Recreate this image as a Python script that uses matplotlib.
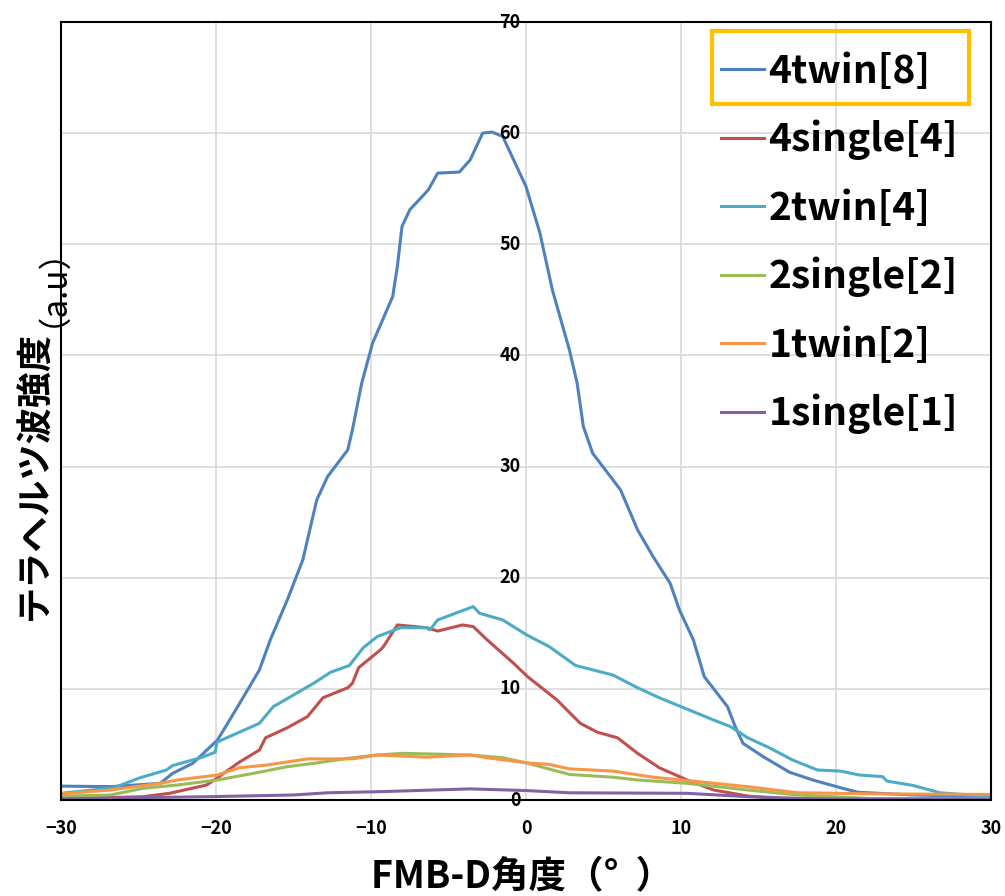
import matplotlib
matplotlib.use('Agg')
import matplotlib.pyplot as plt
from matplotlib.patches import Rectangle

plt.rcParams['font.family'] = ['Noto Sans CJK JP', 'DejaVu Sans']

# angle (deg) / intensity (a.u)
x_4twin = [-30, -26.8, -23.6, -22.8, -21.5, -19.9, -18.6, -17.2, -16.5, -15.4, -14.4, -13.5, -12.8,
           -11.5, -11.2, -10.6, -9.9, -8.6, -8.3, -8.0, -7.5, -6.3, -5.7, -4.3, -3.6, -2.8, -2.2,
           -1.5, 0.0, 0.9, 1.7, 2.8, 3.3, 3.7, 4.3, 6.1, 7.2, 8.2, 9.3, 9.9, 10.8, 11.5, 13.0,
           13.5, 14.0, 15.3, 17.0, 18.5, 20.3, 21.4, 22.8, 25, 30]
y_4twin = [1.25, 1.2, 1.5, 2.4, 3.3, 5.4, 8.4, 11.7, 14.4, 18.0, 21.6, 27.0, 29.1,
           31.5, 33.3, 37.5, 41.1, 45.3, 48.0, 51.6, 53.1, 54.9, 56.4, 56.5, 57.6, 60.0, 60.1,
           59.7, 55.2, 51.0, 45.9, 40.5, 37.5, 33.6, 31.2, 27.9, 24.3, 21.9, 19.5, 17.1, 14.4, 11.1, 8.4,
           6.6, 5.1, 3.9, 2.5, 1.8, 1.1, 0.7, 0.6, 0.45, 0.3]

x_4single = [-30, -24.7, -23, -20.6, -19.9, -18.5, -17.2, -16.8, -15.4, -14.1, -13.1, -11.5, -11.2,
             -10.8, -9.4, -9.2, -8.3, -6.4, -5.7, -4.1, -3.4, -2.5, -0.8, 0.1, 2.0, 3.5, 4.6, 5.9,
             7.2, 8.6, 10.4, 12.1, 14.3, 16.2, 20, 25, 30]
y_4single = [0.1, 0.3, 0.6, 1.35, 2.0, 3.4, 4.5, 5.6, 6.5, 7.5, 9.2, 10.1, 10.5,
             11.9, 13.5, 13.8, 15.75, 15.5, 15.2, 15.75, 15.6, 14.4, 12.3, 11.1, 9.0, 6.9, 6.1, 5.6,
             4.2, 2.9, 1.8, 0.9, 0.36, 0.15, 0.1, 0.1, 0.1]

x_2twin = [-30, -26.6, -24.9, -23.2, -22.8, -21, -20.05, -19.95, -17.2, -16.3, -13.7, -12.6, -11.4,
           -10.5, -9.6, -8.1, -6.4, -6.2, -5.7, -3.4, -3.0, -1.5, 0.05, 1.5, 3.2, 5.6, 7.2, 8.6,
           10.0, 12.1, 13.2, 14.3, 15.7, 17.2, 18.8, 20.3, 21.5, 23.0, 23.3, 25.0, 26.7, 28.6, 30]
y_2twin = [0.6, 1.1, 2.0, 2.7, 3.1, 3.8, 4.3, 5.2, 6.9, 8.4, 10.5, 11.5, 12.1,
           13.7, 14.7, 15.5, 15.5, 15.3, 16.2, 17.4, 16.8, 16.2, 14.85, 13.8, 12.1, 11.25, 10.1, 9.2,
           8.4, 7.2, 6.6, 5.6, 4.7, 3.6, 2.7, 2.6, 2.25, 2.1, 1.7, 1.3, 0.65, 0.45, 0.3]

x_2single = [-30, -26.8, -24.7, -22.5, -19.9, -17.2, -15.4, -13.7, -11.2, -9.6, -7.9, -3.6, -1.5,
             0.0, 2.8, 5.6, 7.2, 10.4, 14.3, 17.5, 22.8, 30]
y_2single = [0.35, 0.45, 1.05, 1.35, 1.8, 2.5, 3.0, 3.3, 3.8, 4.05, 4.2, 4.05, 3.8,
             3.35, 2.3, 2.05, 1.8, 1.5, 0.9, 0.45, 0.1, 0.1]

x_1twin = [-30, -26.8, -23.6, -22.5, -19.9, -18.5, -16.7, -14.1, -11.2, -9.6, -6.4, -3.6, -2.5,
           0.0, 1.5, 2.8, 5.6, 8.2, 10.4, 14.3, 17.5, 22.8, 30]
y_1twin = [0.55, 0.9, 1.5, 1.8, 2.25, 2.9, 3.15, 3.7, 3.7, 4.05, 3.85, 4.05, 3.8,
           3.35, 3.2, 2.8, 2.6, 2.05, 1.75, 1.2, 0.65, 0.55, 0.5]

x_1single = [-30, -20.4, -15, -12.8, -9.4, -3.6, 0.0, 2.8, 10.4, 14.3, 18.5, 30]
y_1single = [0.1, 0.3, 0.45, 0.65, 0.75, 1.0, 0.85, 0.65, 0.6, 0.3, 0.1, 0.05]

series = [
    ('4twin[8]', x_4twin, y_4twin, '#4F81BD'),
    ('4single[4]', x_4single, y_4single, '#C0504D'),
    ('2twin[4]', x_2twin, y_2twin, '#4BACC6'),
    ('2single[2]', x_2single, y_2single, '#9BBB59'),
    ('1twin[2]', x_1twin, y_1twin, '#F79646'),
    ('1single[1]', x_1single, y_1single, '#8064A2'),
]

x_ticks = [-30, -20, -10, 0, 10, 20, 30]
y_ticks = [0, 10, 20, 30, 40, 50, 60, 70]

fig = plt.figure(figsize=(10.05, 8.96), dpi=100)
ax = fig.add_axes([61 / 1005, 96 / 896, 930 / 1005, 778 / 896])

for name, xs, ys, col in series:
    ax.plot(xs, ys, color=col, lw=2.2, label=name, solid_joinstyle='round')

ax.set_xlim(-30, 30)
ax.set_ylim(0, 70)
ax.set_xticks(x_ticks)
ax.set_yticks(y_ticks)
ax.set_yticklabels([])
ax.grid(True, color='#D9D9D9', lw=1.2)
ax.set_axisbelow(True)
ax.tick_params(length=0)
ax.tick_params(axis='x', pad=14, labelsize=13)
for lab in ax.get_xticklabels():
    lab.set_fontweight('bold')
for sp in ax.spines.values():
    sp.set_linewidth(1.5)
    sp.set_color('black')

# y tick labels sit next to x = 0
for v in y_ticks:
    ax.text(-0.35, v, str(v), ha='right', va='center', fontsize=13, fontweight='bold')

fig.text(522 / 1005, 1 - 877 / 896, 'FMB-D角度（°  ）', ha='center', va='center',
         fontsize=27, fontweight='bold')
fig.text(35 / 1005, 1 - 620 / 896, 'テラヘルツ波強度', rotation=90, ha='center', va='bottom',
         fontsize=26, fontweight='bold')
fig.text(35 / 1005, 1 - 327 / 896, '（a.u）', rotation=90, ha='center', va='bottom',
         fontsize=24)

leg = ax.legend(loc='upper left', bbox_to_anchor=(721 / 1005, 1 - 52 / 896),
                bbox_transform=fig.transFigure, frameon=False, borderpad=0, borderaxespad=0,
                handlelength=1.1, handletextpad=0.12, labelspacing=0.74,
                prop={'family': 'Noto Sans CJK JP', 'weight': 'bold', 'size': 28})

fig.patches.append(Rectangle((712 / 1005, 1 - 104 / 896), 257 / 1005, 73 / 896,
                             transform=fig.transFigure, fill=False, edgecolor='#FFC000', lw=3))

fig.savefig('out.png', dpi=100)
